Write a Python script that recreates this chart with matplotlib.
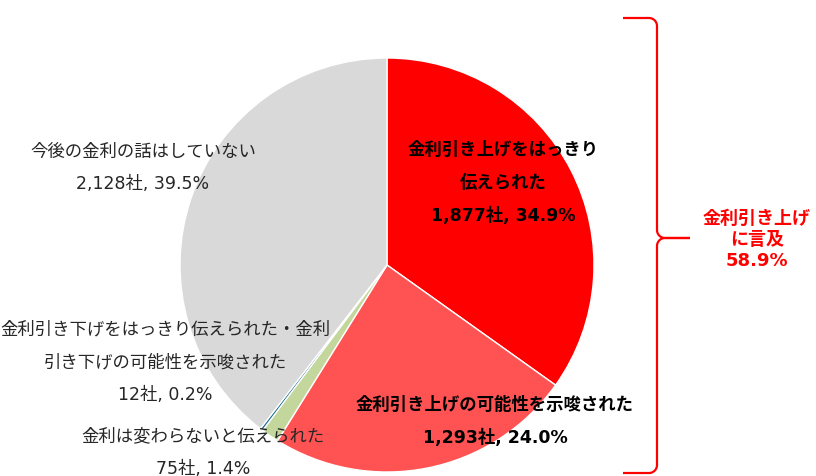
import matplotlib
import matplotlib.pyplot as plt
import numpy as np

plt.switch_backend("agg")
plt.rcParams["font.family"] = ["DejaVu Sans", "Noto Sans CJK JP"]

categories = [
    "金利引き上げをはっきり\n伝えられた",
    "金利引き上げの可能性を示唆された",
    "金利は変わらないと伝えられた",
    "金利引き下げをはっきり伝えられた・金利\n引き下げの可能性を示唆された",
    "今後の金利の話はしていない",
]
counts = [1877, 1293, 75, 12, 2128]
percents = [34.9, 24.0, 1.4, 0.2, 39.5]
colors = ["#FF0000", "#FF5353", "#C3D69B", "#1F6F93", "#D9D9D9"]
bold = [True, True, False, False, False]
# label anchor in figure pixels (x, y of block center)
label_pos = [(503, 183), (495, 421), (203, 453), (165, 362), (143, 168)]

brace_total = percents[0] + percents[1]

W, H = 816, 476
fig = plt.figure(figsize=(W / 100, H / 100), dpi=100)

cx, cy, r = 387, 265, 207
ax = fig.add_axes([(cx - r) / W, (H - cy - r) / H, 2 * r / W, 2 * r / H])
ax.pie(
    counts,
    colors=colors,
    startangle=90,
    counterclock=False,
    wedgeprops={"edgecolor": "white", "linewidth": 1.0},
)
ax.set_xlim(-1, 1)
ax.set_ylim(-1, 1)
ax.set_aspect("auto")

ov = fig.add_axes([0, 0, 1, 1], zorder=5)
ov.set_xlim(0, W)
ov.set_ylim(H, 0)
ov.axis("off")
ov.patch.set_alpha(0)

for name, n, p, b, (x, y) in zip(categories, counts, percents, bold, label_pos):
    ov.text(
        x, y, f"{name}\n{n:,}社, {p:.1f}%",
        ha="center", va="center", fontsize=12.5,
        fontweight="bold" if b else "normal",
        color="black" if b else "#262626",
        linespacing=2.05,
    )

# curly brace for the "raise" group
bx, top, bot, mid, tip = 657, 18, 473, 238, 690
c = 8
t = np.linspace(0, np.pi / 2, 20)
xs, ys = [], []
xs += [623]; ys += [top]
xs += list(bx - c + c * np.sin(t)); ys += list(top + c - c * np.cos(t))
xs += [bx, bx]; ys += [top + c, mid - c]
xs += list(bx + c - c * np.cos(t)); ys += list(mid - c + c * np.sin(t))
xs += [tip]; ys += [mid]
ov.plot(xs, ys, color="#FF0000", lw=1.6, solid_capstyle="butt")
xs, ys = [tip], [mid]
xs += list(bx + c - c * np.sin(t)); ys += list(mid + c - c * np.cos(t))
xs += [bx, bx]; ys += [mid + c, bot - c]
xs += list(bx - c + c * np.cos(t)); ys += list(bot - c + c * np.sin(t))
xs += [623]; ys += [bot]
ov.plot(xs, ys, color="#FF0000", lw=1.6, solid_capstyle="butt")

ov.text(757, 240, f"金利引き上げ\nに言及\n{brace_total:.1f}%",
        ha="center", va="center", fontsize=13, fontweight="bold",
        color="#FF0000", linespacing=1.2)

fig.savefig("out.png", dpi=100)
